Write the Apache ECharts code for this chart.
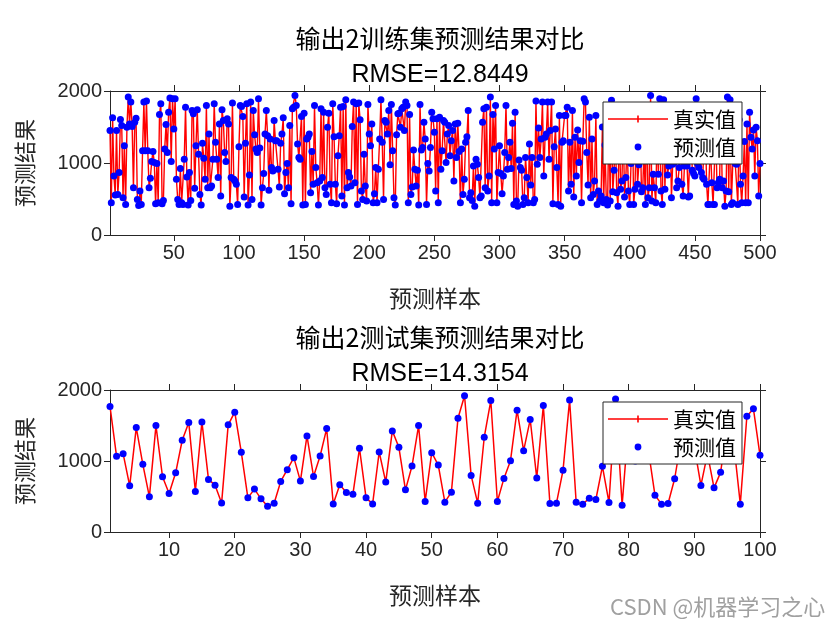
<!DOCTYPE html>
<html><head><meta charset="utf-8">
<script src="https://cdn.jsdelivr.net/npm/echarts@6/dist/echarts.min.js"></script>
<style>html,body{margin:0;padding:0;background:#fff}#c{width:840px;height:630px}</style>
</head><body><div id="c"></div><script>
// ---- training set (output 2), 500 samples in segments ----
const trainSeg1 = [1450,447,1627,820,555,1450,564,867,1604,1520,
517,1240,424,1496,1916,1543,1846,1506,657,1566,
1622,494,410,611,424,1170,1846,1170,1860,1170,
657,788,1021,1161,1007,433,993,447,1674,1823,
433,480,1193,1534,1147,1706,1902,1021,1893,1473,
1893,774,494,424,923,447,424,1053,1776,806,
415,867,480,1730,1683,648,1240,1739,1123,564,
415,1273,1067,774,1800,657,1403,657,680,1053,
1823];
const trainSeg2 = [1287,1053,797,1543,541,1739,1590,1147,1021,1613,
1543,401,797,1832,774,750,704,424,1226,1800,
1786,1646,527,1273,1823,415,834,1846,494,1730,
1394,1193,1147,1893,1207,415,657,853,1403,1730,
1380,620,1333,937,890,1590,1310,1310,914,666,
1273,1403,1627,573,867,993,657,1520,433,1753,
1776,1939,1800,1263,1077,1053,1646,415,1692,424,
1333,1357,1403,587,1161,704,1800,937,727,415,
750,1753,797,1706];
const trainSeg3 = [657,564,1496,1692,704,447,1823,1366,704,433,
1100,1380,1776,541,1786,415,1879,657,867,806,
680,1506,1846,727,1823,424,1832,1599,611,494,
1123,680,471,1813,1403,1240,1543,447,573,937,
447,914,1333,1879,1287,494,1590,1566,1403,1730,
974,1813,1170,517,415,1394,1683,1692,1496,1753,
1776,1450,1846,1800,447,1674,564,666,1179,914,
680,900,415,1813,1179,1217,1566,1333,424,993,
890,1217,1706,1613,1426];
const trainSeg4 = [611,1613,447,1636,914,1170,1590,1566,1007,1403,
1520,1100,1310,1450,750,1543,1077,1552,1161,447,
1193,564,774,1287,1366,1730,517,587,480,960,
401,1053,984,797,517,541,1566,1753,657,1776,
611,820,1916,447,1674,1193,1800,447,867,1240,
853,573,820,1147,1800,914,1077,1287,923,1552,
424,1706,471,401,1040,937,900,424,517,1077,
797,447,1263,694,1077,447,494,1860,984,1487,
1077,1333,1846,820];
const trainSeg5 = [1357,1403,1846,1053,1450,1846,433,1226,1473,937,
424,1660,401,1287,1310,1660,1660,1776,611,1287,
704,1730,527,1357,820,1459,1007,1310,447,1301,
1893,1846,1147,694,1636,517,1333,564,750,1660,
424,611,471];
const trainSeg6 = [541,1500,447,1250,494,415,1650,471,1870,601,
900,1400,587,401,1700,634,750,1550,527,797,
1300,611,424,993,1750,424,634,1450,704,974,
1600,601,657,1200,424,1800,517,657,1939,471,
843,657];
const trainSeg7 = [447,1500,843,1893,611,424,1879,634,1350,834,
960,1600,517,984,1007,1450,657,750,937,1700,
704,541,960,1300,960,527,541,1550,900,853,
820,1893,993,937,1400,867,797,774,1650,704,
424,424,1250,727,424,424,1500,657,727,774,
1750,657,750,401,611,1916,601,1879,424,447,
1450,993,984,424,1600,704,447,820,1300,447];
const trainSeg8 = [1543,447,1706,1357,1193,1459,820,1496,1310,541,993];
const trainValues = [].concat(trainSeg1,trainSeg2,trainSeg3,trainSeg4,trainSeg5,trainSeg6,trainSeg7,trainSeg8);

// ---- test set (output 2), 100 samples ----
const testValues = [1768,1066,1103,650,1471,953,495,1499,778,543,
834,1292,1541,571,1551,741,660,410,1509,1688,
1122,481,604,467,363,406,712,877,1047,717,
1353,783,1070,1457,396,665,557,533,1179,481,
396,1127,703,1424,1193,594,929,1499,430,1117,
943,420,561,1603,1919,797,406,1335,1852,430,
755,1004,1716,1145,1584,759,1782,401,406,868,
1858,420,392,476,458,925,415,1872,378,1550,
1000,1450,1150,519,392,401,750,1300,1700,1200,
656,1100,622,840,1500,1250,392,1631,1735,1080];

const trainTicks = [50,100,150,200,250,300,350,400,450,500];
const testTicks = [10,20,30,40,50,60,70,80,90,100];
const titles = ['输出2训练集预测结果对比','RMSE=12.8449','输出2测试集预测结果对比','RMSE=14.3154'];
const legendNames = ['真实值','预测值'];
const xName = '预测样本', yName = '预测结果';

const AX = '#262626';
const CJK = '"Noto Sans CJK SC", sans-serif';
const LAT = '"Liberation Sans", Arial, sans-serif';
const lineIcon = 'path://M0,3.2h60v1.6h-60z M29.2,0.4h1.6v7.2h-1.6z';
const dotIcon = 'path://M0,0h0.01v0.01h-0.01z M59.99,7.99h0.01v0.01h-0.01z M30,0.6a3.4,3.4 0 1,1 0,6.8a3.4,3.4 0 1,1 0,-6.8z';

function xAxes(g, max, ticks) {
  return [
    {gridIndex:g, type:'value', min:1, max:max, position:'bottom',
     axisLine:{show:true, onZero:false, lineStyle:{color:AX,width:1}},
     axisTick:{show:true, inside:false, length:6, customValues:ticks, lineStyle:{color:AX}},
     axisLabel:{customValues:ticks, fontSize:20, color:AX, fontFamily:LAT, margin:8},
     splitLine:{show:false},
     name:xName, nameLocation:'middle', nameGap:52,
     nameTextStyle:{fontSize:23, fontFamily:CJK, color:AX}},
    {gridIndex:g, type:'value', min:1, max:max, position:'top',
     axisLine:{show:true, onZero:false, lineStyle:{color:AX,width:1}},
     axisTick:{show:true, inside:false, length:6, customValues:ticks, lineStyle:{color:AX}},
     axisLabel:{show:false}, splitLine:{show:false}}
  ];
}
function yAxes(g) {
  return [
    {gridIndex:g, type:'value', min:0, max:2000, interval:1000, position:'left',
     axisLine:{show:true, onZero:false, lineStyle:{color:AX,width:1}},
     axisTick:{show:true, inside:false, length:6, lineStyle:{color:AX}},
     axisLabel:{fontSize:20, color:AX, fontFamily:LAT, margin:8, formatter:(v)=>String(v)},
     splitLine:{show:false},
     name:yName, nameLocation:'middle', nameGap:74, nameRotate:90,
     nameTextStyle:{fontSize:22, fontFamily:CJK, color:AX}},
    {gridIndex:g, type:'value', min:0, max:2000, interval:1000, position:'right',
     axisLine:{show:true, onZero:false, lineStyle:{color:AX,width:1}},
     axisTick:{show:true, inside:false, length:6, lineStyle:{color:AX}},
     axisLabel:{show:false}, splitLine:{show:false}}
  ];
}
function legend(top) {
  return {
    orient:'vertical', left:603, top:top, itemWidth:60, itemHeight:8, itemGap:4,
    padding:[5,6,5,5], backgroundColor:'#fff', borderColor:AX, borderWidth:1, borderRadius:0,
    textStyle:{fontSize:21, fontFamily:CJK, color:'#000', lineHeight:24},
    selectedMode:false,
    data:[{name:legendNames[0], icon:lineIcon, itemStyle:{color:'#ff0000', opacity:1}},
          {name:legendNames[1], icon:dotIcon, itemStyle:{color:'#0000ff', opacity:1}}]
  };
}
function titleItem(text, top, cjk) {
  return {text:text, left:435, top:top, textAlign:'center',
    textStyle:{fontSize:25, fontWeight:'normal', fontFamily:cjk?CJK:LAT, color:'#000'}};
}
const chart = echarts.init(document.getElementById('c'), null, {renderer:'canvas'});
chart.setOption({
  animation:false,
  backgroundColor:'#fff',
  title:[titleItem(titles[0],21,true), titleItem(titles[1],58,false),
         titleItem(titles[2],320,true), titleItem(titles[3],357,false)],
  grid:[{left:110, top:91, width:650, height:144},{left:110, top:390, width:650, height:142}],
  xAxis:[].concat(xAxes(0,500,trainTicks), xAxes(1,100,testTicks)),
  yAxis:[].concat(yAxes(0), yAxes(1)),
  legend:[legend(102), legend(402)],
  series:[
    {type:'line', name:legendNames[0], xAxisIndex:0, yAxisIndex:0, symbol:'none',
     data:trainValues.map((v,i)=>[i+1,v]), lineStyle:{color:'#ff0000',width:1.4}, itemStyle:{color:'#ff0000'}, z:2},
    {type:'scatter', name:legendNames[1], xAxisIndex:0, yAxisIndex:0, symbolSize:7,
     data:trainValues.map((v,i)=>[i+1,v]), itemStyle:{color:'#0000ff', opacity:1}, z:3},
    {type:'line', name:legendNames[0], xAxisIndex:2, yAxisIndex:2, symbol:'none',
     data:testValues.map((v,i)=>[i+1,v]), lineStyle:{color:'#ff0000',width:1.5}, itemStyle:{color:'#ff0000'}, z:2},
    {type:'scatter', name:legendNames[1], xAxisIndex:2, yAxisIndex:2, symbolSize:7,
     data:testValues.map((v,i)=>[i+1,v]), itemStyle:{color:'#0000ff', opacity:1}, z:3}
  ],
  graphic:[{type:'text', left:610, top:596, style:{text:'CSDN @机器学习之心', fontSize:22, fontFamily:CJK, fill:'#a0a0a0'}}]
});
</script></body></html>
